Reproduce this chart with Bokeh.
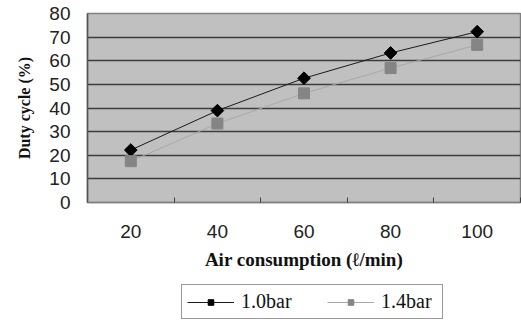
import math
from bokeh.plotting import figure
from bokeh.layouts import column
from bokeh.models import (FactorRange, Range1d, LinearAxis, CategoricalAxis,
                          FixedTicker, Legend, LegendItem, ColumnDataSource)
from bokeh.embed import file_html
from bokeh.resources import INLINE

# ---- data ----
categories = ["20", "40", "60", "80", "100"]
duty_1_0bar = [22.2, 38.9, 52.6, 63.3, 72.3]
duty_1_4bar = [17.5, 33.4, 46.2, 56.9, 66.7]
y_ticks = [0, 10, 20, 30, 40, 50, 60, 70, 80]
series_labels = ["1.0bar", "1.4bar"]
x_title = "Air consumption (\u2113/min)"
y_title = "Duty cycle (%)"

src = ColumnDataSource(dict(x=categories, a=duty_1_0bar, b=duty_1_4bar))

p = figure(width=521, height=282, x_range=FactorRange(*categories),
           y_range=Range1d(0, 80), output_backend="svg", toolbar_location=None,
           x_axis_location=None, y_axis_location="left",
           min_border_left=87, min_border_right=1, min_border_top=13,
           min_border_bottom=80)

p.background_fill_color = "#c0c0c0"
p.border_fill_color = "white"
p.outline_line_color = "#808080"
p.outline_line_width = 1.5

for g in p.grid:
    if g.dimension == 0:
        g.visible = False

# y axis
ya = p.yaxis[0]
ya.ticker = FixedTicker(ticks=y_ticks)
ya.major_tick_out = 0
ya.major_tick_in = 0
ya.minor_tick_out = 0
ya.minor_tick_in = 0
ya.axis_line_color = "#555555"
ya.axis_line_width = 1.5
ya.major_label_text_font = "Liberation Sans"
ya.major_label_text_font_size = "19px"
ya.major_label_text_color = "#222222"
ya.major_label_standoff = 17
ya.axis_label = y_title
ya.axis_label_text_font = "Liberation Serif"
ya.axis_label_text_font_size = "16px"
ya.axis_label_text_font_style = "bold"
ya.axis_label_text_color = "#111111"
ya.axis_label_standoff = 13

p.ygrid.grid_line_color = "#3c3c3c"
p.ygrid.grid_line_width = 1.5

# separator tick marks between categories (factor boundaries in synthetic coords)
sep = LinearAxis(ticker=FixedTicker(ticks=list(range(len(categories) + 1))),
                 major_tick_in=5, major_tick_out=0,
                 minor_tick_in=0, minor_tick_out=0,
                 major_tick_line_color="#404040",
                 major_label_text_font_size="0px", major_label_standoff=0,
                 major_label_text_alpha=0,
                 axis_line_color="#808080", axis_line_width=1.5)
p.add_layout(sep, "below")

xa = CategoricalAxis(major_tick_in=0, major_tick_out=0,
                     axis_line_color=None,
                     major_label_text_font="Liberation Sans",
                     major_label_text_font_size="19px",
                     major_label_text_color="#222222",
                     major_label_standoff=22,
                     axis_label=x_title,
                     axis_label_text_font="Liberation Serif",
                     axis_label_text_font_size="19px",
                     axis_label_text_font_style="bold",
                     axis_label_text_color="#111111",
                     axis_label_standoff=8)
p.add_layout(xa, "below")

# series
l1 = p.line("x", "a", source=src, line_color="#1a1a1a", line_width=1)
m1 = p.scatter("x", "a", source=src, marker="square", angle=math.pi / 4,
               size=9, fill_color="black", line_color="black")
l2 = p.line("x", "b", source=src, line_color="#a8a8a8", line_width=1)
m2 = p.scatter("x", "b", source=src, marker="square", size=11,
               fill_color="#858585", line_color="#858585")

# legend strip below the chart (its frame lines up with the chart frame)
lg = figure(width=521, height=38, output_backend="svg", toolbar_location=None,
            x_range=Range1d(0, 1), y_range=Range1d(0, 1),
            x_axis_location=None, y_axis_location=None,
            min_border_left=87, min_border_right=1, min_border_top=0,
            min_border_bottom=0, outline_line_color=None)
lg.grid.visible = False
# legend-sample renderers: their data lie outside the strip's visible range
e1 = lg.line(x=[-3, -2], y=[-3, -2], line_color="#1a1a1a", line_width=1)
s1 = lg.scatter(x=[-3], y=[-3], marker="square", angle=math.pi / 4, size=9,
                fill_color="black", line_color="black")
e2 = lg.line(x=[-3, -2], y=[-3, -2], line_color="#a8a8a8", line_width=1)
s2 = lg.scatter(x=[-3], y=[-3], marker="square", size=11,
                fill_color="#858585", line_color="#858585")

legend = Legend(items=[LegendItem(label=series_labels[0], renderers=[e1, s1]),
                       LegendItem(label=series_labels[1], renderers=[e2, s2])],
                orientation="horizontal", location=(94, 1),
                label_text_font="Liberation Serif", label_text_font_size="20px",
                label_text_color="#111111",
                glyph_width=47, glyph_height=14, label_standoff=7,
                label_width=56, label_height=20,
                spacing=30, padding=5, margin=0,
                border_line_color="#333333", border_line_width=1,
                background_fill_color="white", background_fill_alpha=1)
lg.add_layout(legend)

layout = column(p, lg, spacing=0)
open("out.html", "w").write(file_html(layout, INLINE))
